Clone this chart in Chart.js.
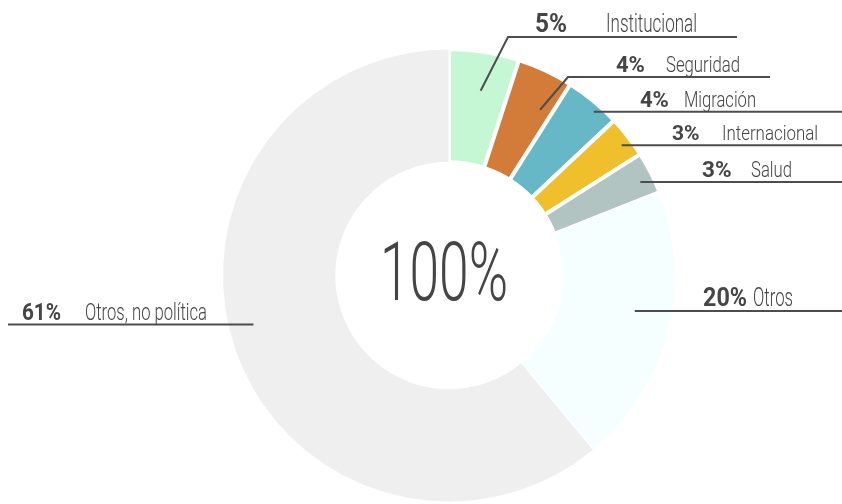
<!DOCTYPE html>
<html>
<head>
<meta charset="utf-8">
<script src="https://cdn.jsdelivr.net/npm/chart.js@4.4.1/dist/chart.umd.min.js"></script>
<style>
    html, body { margin: 0; padding: 0; background: #fff; }
    #wrap { width: 842px; height: 504px; position: relative; }
</style>
</head>
<body>
<div id="wrap"><canvas id="topics"></canvas></div>
<script>
// Chart data
const categories = ['Institucional', 'Seguridad', 'Migración', 'Internacional', 'Salud', 'Otros', 'Otros, no política'];
const shares = [5, 4, 4, 3, 3, 20, 61];
const sliceColours = ['#c6f7d4', '#d37c3a', '#67b8c6', '#efbf2c', '#b1c4c2', '#f5ffff', '#efefef'];
const centreText = '100%';

// Where each label sits (frac = along the slice, depth = from hole to rim)
// size = font size, pctW / nameW = squeezed text widths
const labelLayout = [
    { frac: 0.54, depth: 0.655, lineY: 37, elbowX: 508, endX: 737, pctX: 535, nameX: 606, size: 25.5, pctW: 32, nameW: 91 },
    { frac: 0.75, depth: 0.67, lineY: 77, elbowX: 568, endX: 770, pctX: 616, nameX: 666, size: 22, pctW: 32, nameW: 74 },
    { frac: 0.63, depth: 0.93, endX: 842, pctX: 640, nameX: 684, size: 22, pctW: 32, nameW: 72 },
    { frac: 0.57, depth: 0.91, endX: 842, pctX: 672, nameX: 722, size: 21, pctW: 31, nameW: 96 },
    { frac: 0.59, depth: 0.88, endX: 842, pctX: 702, nameX: 751, size: 22.5, pctW: 32, nameW: 41 },
    { frac: 0.45, depth: 0.67, endX: 842, pctX: 703, nameX: 753, size: 25.5, pctW: 44, nameW: 40 },
    { frac: 0.526, depth: 0.78, endX: 8, pctX: 22, nameX: 85, size: 23.3, pctW: 39, nameW: 122 }
];

const fontFamily = 'Roboto, "DejaVu Sans Condensed", sans-serif';
const textColour = '#454545';
const lineColour = '#4d4d4d';

// Plugin drawing the leader lines, labels and the number in the hole
const calloutPlugin = {
    id: 'callouts',
    afterDraw(chart) {
        const ctx = chart.ctx;
        const meta = chart.getDatasetMeta(0);
        ctx.save();
        meta.data.forEach(function(arc, i) {
            const p = arc.getProps(['x', 'y', 'startAngle', 'endAngle', 'innerRadius', 'outerRadius'], true);
            const cfg = labelLayout[i];
            const a = p.startAngle + cfg.frac * (p.endAngle - p.startAngle);
            const r = p.innerRadius + cfg.depth * (p.outerRadius - p.innerRadius);
            const ax = p.x + r * Math.cos(a);
            const ay = p.y + r * Math.sin(a);
            const lineY = cfg.lineY !== undefined ? cfg.lineY : ay;

            ctx.strokeStyle = lineColour;
            ctx.lineWidth = 2;
            ctx.beginPath();
            ctx.moveTo(ax, ay);
            if (cfg.lineY !== undefined) {
                ctx.lineTo(cfg.elbowX, lineY);
            }
            ctx.lineTo(cfg.endX, lineY);
            ctx.stroke();

            ctx.fillStyle = textColour;
            ctx.textBaseline = 'alphabetic';
            ctx.textAlign = 'left';
            ctx.font = '700 ' + cfg.size + 'px ' + fontFamily;
            ctx.fillText(shares[i] + '%', cfg.pctX, lineY - 5, cfg.pctW);
            ctx.font = '300 ' + cfg.size + 'px ' + fontFamily;
            ctx.fillText(categories[i], cfg.nameX, lineY - 5, cfg.nameW);
        });

        // Total in the middle
        const first = meta.data[0];
        ctx.font = '300 82px ' + fontFamily;
        ctx.textAlign = 'center';
        ctx.fillStyle = textColour;
        ctx.fillText(centreText, first.x - 5, 300, 128);
        ctx.restore();
    }
};

new Chart(document.getElementById('topics'), {
    type: 'doughnut',
    data: {
        labels: categories,
        datasets: [{
            data: shares,
            backgroundColor: sliceColours,
            borderColor: '#ffffff',
            borderWidth: [4, 4, 4, 4, 4, 2, 1],
            hoverOffset: 0
        }]
    },
    options: {
        responsive: true,
        maintainAspectRatio: false,
        animation: false,
        cutout: '50%',
        layout: {
            padding: { top: 47, bottom: -3, left: 219, right: 163 }
        },
        plugins: {
            legend: { display: false },
            tooltip: { enabled: false }
        }
    },
    plugins: [calloutPlugin]
});
</script>
</body>
</html>
